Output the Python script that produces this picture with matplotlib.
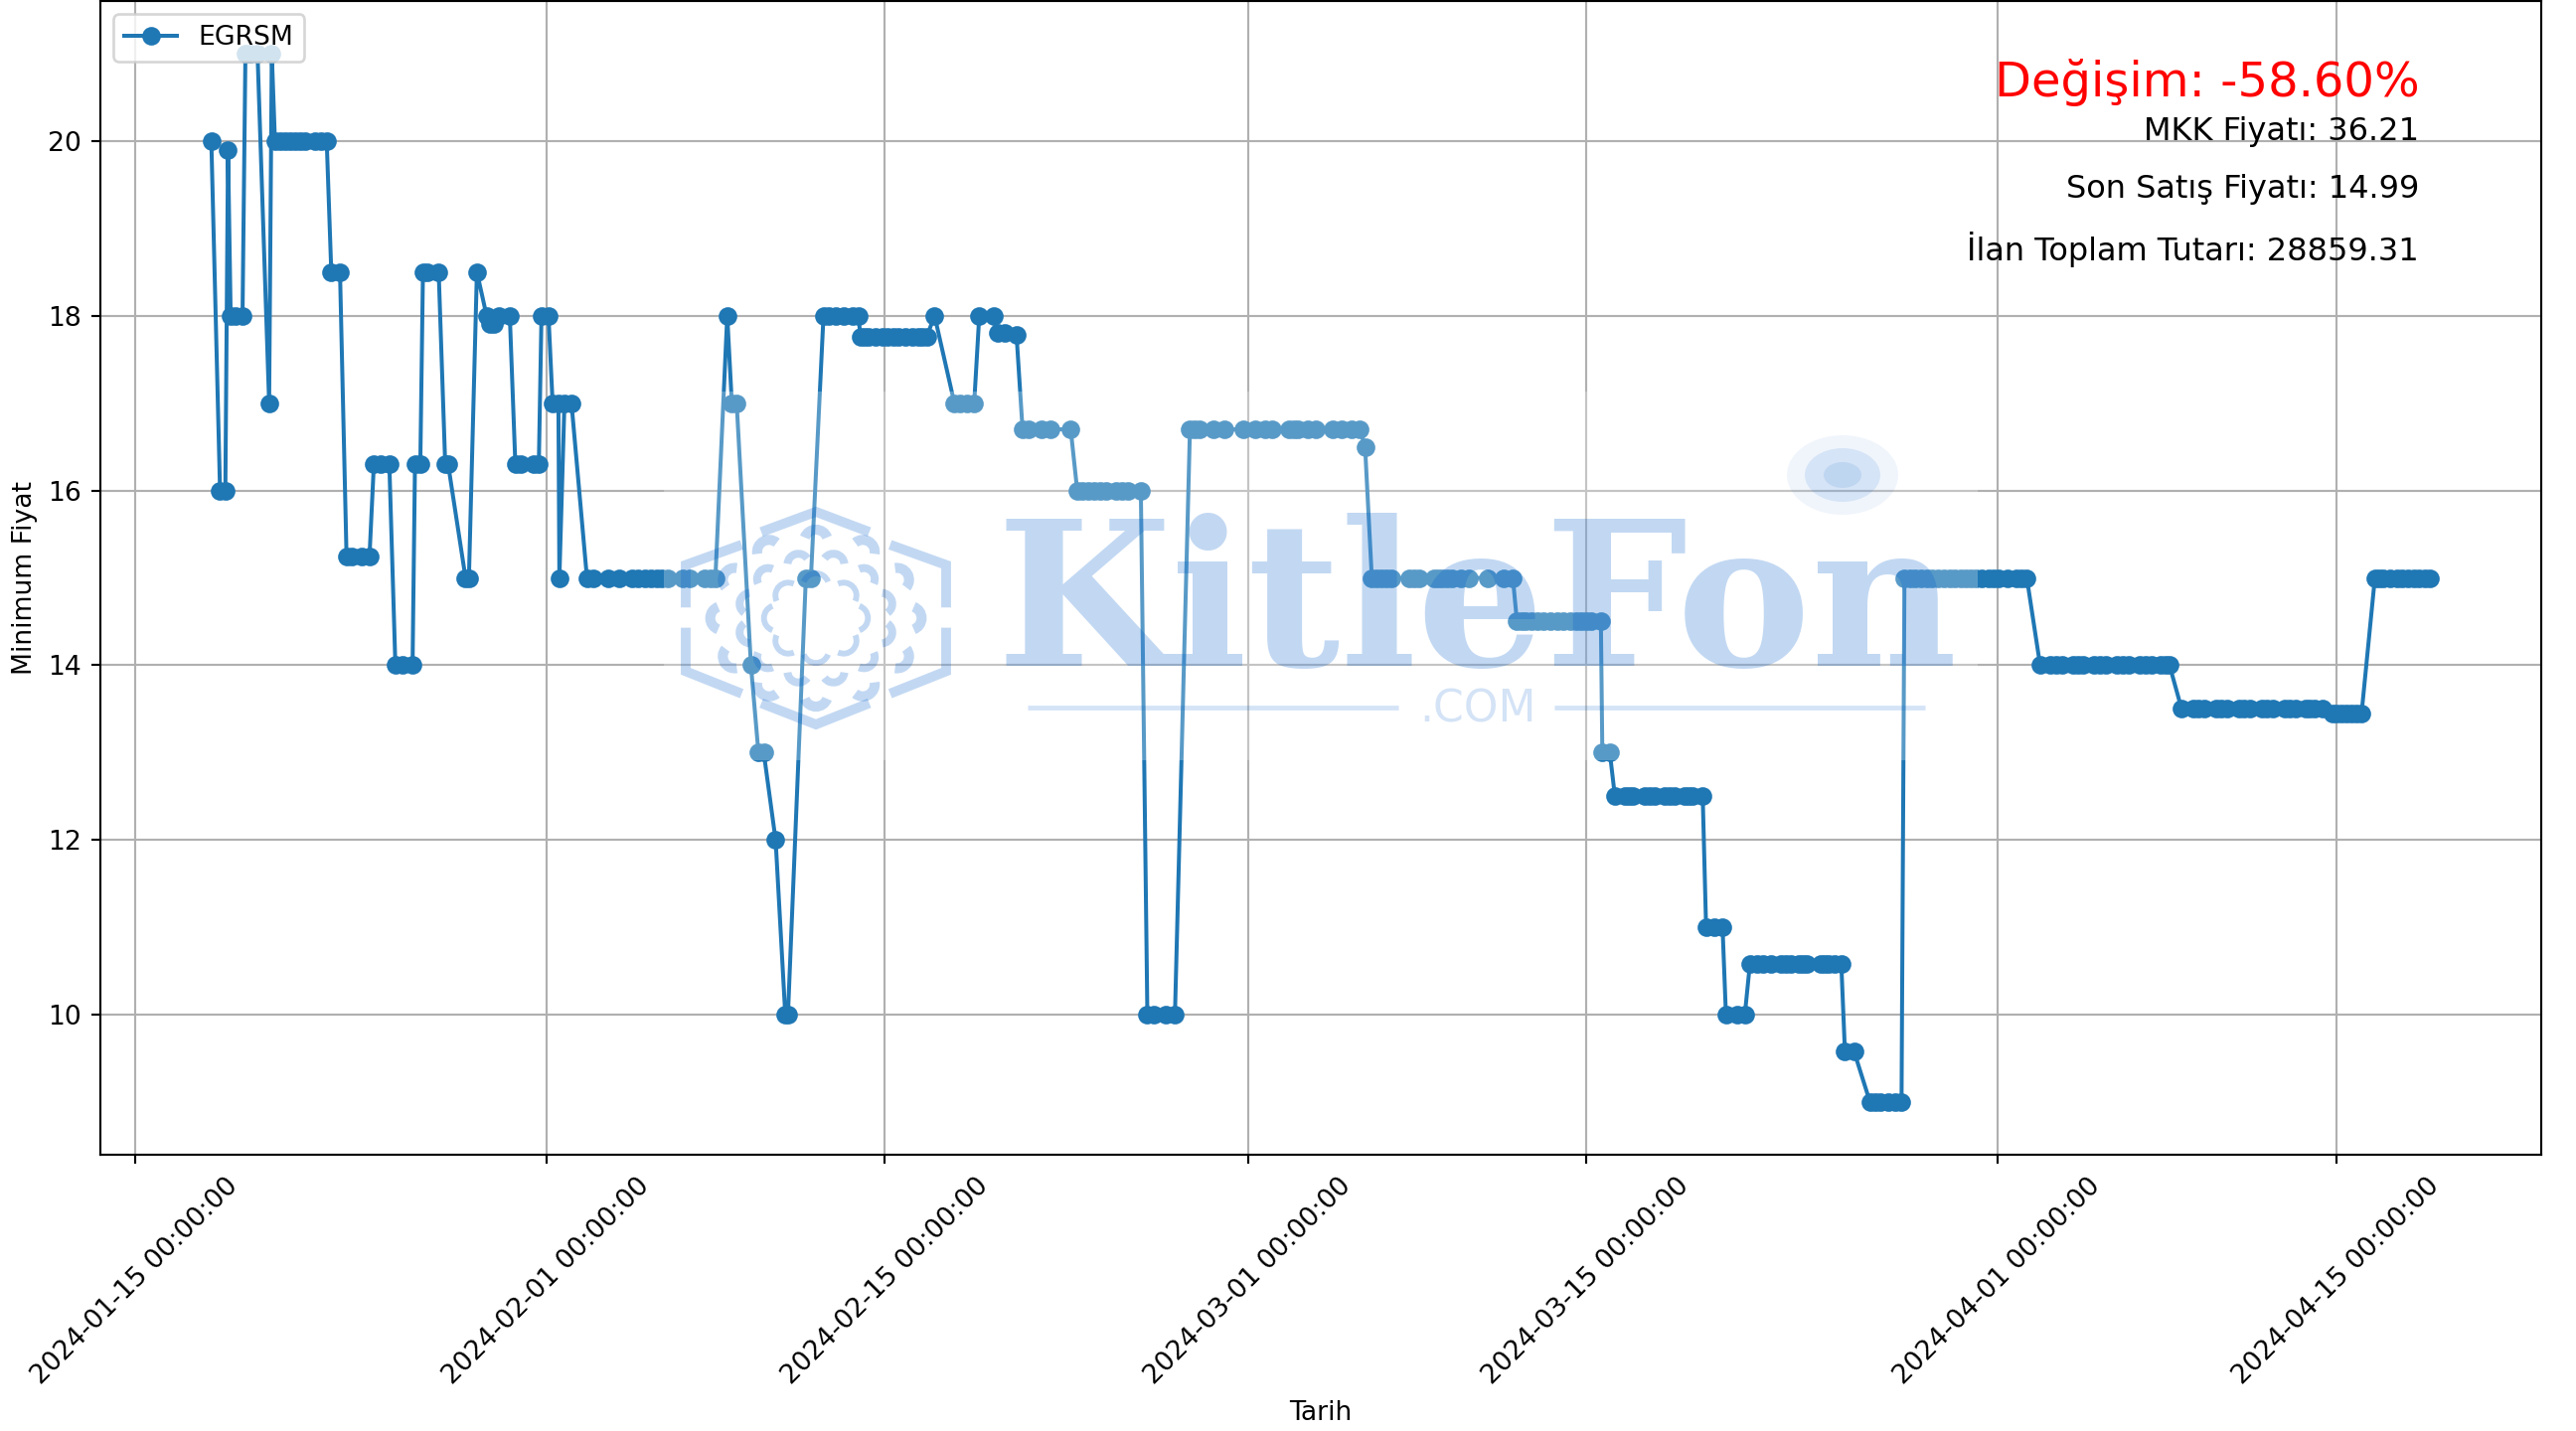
import matplotlib
matplotlib.use('Agg')
import matplotlib.pyplot as plt
import matplotlib.dates as mdates
from matplotlib.patches import Arc, Ellipse, Rectangle
import numpy as np
import pandas as pd

# start date, then runs of equal price: day offsets
start_date = '2024-01-15'
run_prices = [
    20, 16, 19.9, 18, 21, 17, 21, 20, 18.5, 15.25, 16.3, 14, 16.3, 18.5, 16.3, 15, 18.5,
    18, 17.9, 18, 16.3, 18, 17, 15, 17, 15, 18, 17, 14, 13, 12, 10, 15, 18, 17.76,
    18, 17, 18, 17.8, 17.78, 16.7, 16, 10, 16.7, 16.5, 15, 14.5, 13, 12.5, 11, 10,
    10.58, 9.58, 9, 15, 14, 13.5, 13.45, 15,
]
run_days = [
    [3.15],
    [3.51, 3.73],
    [3.84],
    [3.95, 4.14, 4.44],
    [4.56, 4.76, 5.06],
    [5.54],
    [5.65],
    [5.78, 5.99, 6.20, 6.40, 6.61, 6.81, 7.02, 7.43, 7.70, 7.92],
    [8.11, 8.47],
    [8.74, 8.96, 9.35, 9.69],
    [9.87, 10.17, 10.51],
    [10.76, 11.06, 11.47],
    [11.57, 11.79],
    [11.90, 12.09, 12.55],
    [12.82, 12.94],
    [13.66, 13.80],
    [14.13],
    [14.53],
    [14.67, 14.83],
    [15.04, 15.49],
    [15.72, 15.95, 16.47, 16.69],
    [16.80, 17.09],
    [17.26, 17.50],
    [17.54],
    [17.75, 18.04],
    [18.68, 18.93, 19.55, 20.03, 20.54, 20.81, 21.08, 21.32, 21.56, 21.77, 22.04, 22.66, 22.93, 23.55, 23.78, 23.99],
    [28.46, 28.69, 28.96, 29.31, 29.65, 29.90],
    [24.67, 24.87],
    [25.46],
    [25.77, 25.99],
    [26.48],
    [26.88, 26.99],
    [27.73, 27.94],
    [24.48],
    [29.99, 30.17, 30.34, 30.61, 30.88, 31.12, 31.36, 31.57, 31.84, 32.12, 32.39, 32.55, 32.73],
    [33.05],
    [33.87, 34.10, 34.38, 34.69],
    [34.90, 35.49],
    [35.65, 35.95],
    [36.44],
    [36.69, 36.92, 37.47, 37.85, 38.68],
    [38.95, 39.17, 39.39, 39.66, 39.90, 40.14, 40.55, 40.80, 41.03, 41.58],
    [41.85, 42.10, 42.61, 42.99],
    [43.61, 43.82, 44.02, 44.60, 45.03, 45.83, 46.31, 46.72, 47.00, 47.72, 47.90, 48.09, 48.50, 48.82, 49.53, 49.87, 50.28, 50.63],
    [50.85],
    [51.13, 51.32, 51.52, 51.72, 51.93, 52.68, 52.88, 53.09, 53.71, 53.88, 54.05, 54.25, 54.46, 54.80, 55.15, 55.93, 56.59, 56.96],
    [57.13, 57.30, 57.48, 57.72, 57.96, 58.23, 58.50, 58.78, 59.05, 59.32, 59.60, 59.80, 60.01, 60.20, 60.60],
    [60.66, 60.97],
    [61.18, 61.59, 61.76, 61.93, 62.41, 62.62, 62.82, 63.23, 63.44, 63.64, 64.06, 64.23, 64.40, 64.81],
    [64.95, 65.29, 65.63],
    [65.77, 66.25, 66.55],
    [66.76, 67.07, 67.30, 67.62, 68.03, 68.24, 68.44, 68.78, 68.95, 69.13, 69.67, 69.85, 70.02, 70.28, 70.54],
    [70.69, 71.07],
    [71.73, 71.93, 72.14, 72.48, 72.75, 73.03],
    [73.15, 73.38, 73.60, 73.83, 74.07, 74.30, 74.55, 74.78, 75.02, 75.25, 75.49, 75.70, 75.88, 76.10, 76.35, 76.62, 76.84, 77.06, 77.42, 77.77, 78.00, 78.21],
    [78.76, 79.19, 79.42, 79.66, 80.13, 80.32, 80.52, 81.00, 81.24, 81.47, 81.94, 82.18, 82.41, 82.88, 83.12, 83.36, 83.75, 83.93, 84.11],
    [84.61, 85.09, 85.32, 85.56, 86.03, 86.26, 86.50, 86.97, 87.20, 87.45, 87.92, 88.15, 88.39, 88.86, 89.10, 89.33, 89.73, 89.92, 90.12, 90.43],
    [90.83, 91.02, 91.22, 91.42, 91.61, 91.83, 92.05],
    [92.60, 92.78, 92.95, 93.22, 93.50, 93.74, 93.97, 94.20, 94.44, 94.66, 94.89],
]
tick_dates = ['2024-01-15', '2024-02-01', '2024-02-15', '2024-03-01',
              '2024-03-15', '2024-04-01', '2024-04-15']
info_labels = ['MKK Fiyatı: 36.21', 'Son Satış Fiyatı: 14.99', 'İlan Toplam Tutarı: 28859.31']
change_label = 'Değişim: -58.60%'

W, H = 2592, 1440
DPI = 192

days, prices = [], []
for price, group in zip(run_prices, run_days):
    days.extend(group)
    prices.extend([price] * len(group))
order = np.argsort(days)
dates = pd.Timestamp(start_date) + pd.to_timedelta(np.array(days)[order], unit='D')
prices = np.array(prices)[order]

fig, ax = plt.subplots(figsize=(W / DPI, H / DPI), dpi=DPI)
fig.subplots_adjust(left=101 / W, right=2557 / W, top=1 - 1 / H, bottom=1 - 1162 / H)

ax.plot(dates, prices, marker='o', label='EGRSM')
ax.set_xticks(pd.to_datetime(tick_dates))
ax.xaxis.set_major_formatter(mdates.DateFormatter('%Y-%m-%d %H:%M:%S'))
ax.tick_params(axis='x', labelrotation=45)
ax.set_xlabel('Tarih')
ax.set_ylabel('Minimum Fiyat')
ax.grid(True)
ax.legend(loc='upper left')

ax.text(0.95, 0.95, change_label, transform=ax.transAxes, ha='right', va='top', fontsize=18, color='red')
for y, label in zip([0.9, 0.85, 0.8], info_labels):
    ax.text(0.95, y, label, transform=ax.transAxes, ha='right', va='top', fontsize=12)

# watermark sits on top of everything, in picture pixels
wm = fig.add_axes([0, 0, 1, 1], facecolor='none')
wm.set_xlim(0, W)
wm.set_ylim(0, H)
wm.axis('off')
wm_color = (0, 92 / 255, 204 / 255)
wm_alpha = 0.24

wm.add_patch(Rectangle((668, H - 765), 1990 - 668, 765 - 394, facecolor='white', alpha=0.26, lw=0))
wm.text(1002, H - 670, 'KitleFon', family='DejaVu Serif', weight='bold', fontsize=76,
        color=wm_color, alpha=wm_alpha, va='baseline', ha='left')
wm.text(1487, H - 714, '.COM', fontsize=16.5, color=wm_color, alpha=0.17, va='center', ha='center')
wm.plot([1034, 1407], [H - 712, H - 712], color=wm_color, alpha=0.17, lw=1.8, solid_capstyle='butt')
wm.plot([1564, 1937], [H - 712, H - 712], color=wm_color, alpha=0.17, lw=1.8, solid_capstyle='butt')

# dot of the logo
for rx, ry, a in [(56, 40, 0.06), (38, 27, 0.11), (19, 13, 0.10)]:
    wm.add_patch(Ellipse((1854, H - 478), 2 * rx, 2 * ry, facecolor=wm_color, alpha=a, lw=0))

# hexagon logo
cx, cy, rx, ry = 821, H - 622, 131, 107
hex_parts = [
    [(-0.42, 0.81), (0, 1), (0.41, 0.81)],
    [(0.57, 0.69), (1, 0.50), (1, 0.10)],
    [(1, -0.09), (1, -0.50), (0.57, -0.71)],
    [(0.41, -0.80), (0, -1), (-0.42, -0.80)],
    [(-0.57, -0.71), (-1, -0.50), (-1, -0.09)],
    [(-1, 0.10), (-1, 0.50), (-0.57, 0.69)],
]
for part in hex_parts:
    xs = [cx + p[0] * rx for p in part]
    ys = [cy + p[1] * ry for p in part]
    wm.plot(xs, ys, color=wm_color, alpha=wm_alpha, lw=3.7, solid_joinstyle='miter', solid_capstyle='butt')

# crescents: outer, middle and inner ring, bulging away from the centre
for r, offset, count, size, lw in [(0.72, 0, 12, 24, 3.8), (0.52, 15, 12, 22, 3.0), (0.30, 0, 8, 26, 2.2)]:
    for k in range(count):
        deg = offset + k * 360 / count
        ang = np.radians(deg)
        px = cx + r * rx * np.cos(ang)
        py = cy + r * ry * np.sin(ang)
        wm.add_patch(Arc((px, py), size, size, angle=deg, theta1=-70, theta2=70,
                         color=wm_color, alpha=wm_alpha, lw=lw))

fig.savefig('out.png', dpi=DPI)
